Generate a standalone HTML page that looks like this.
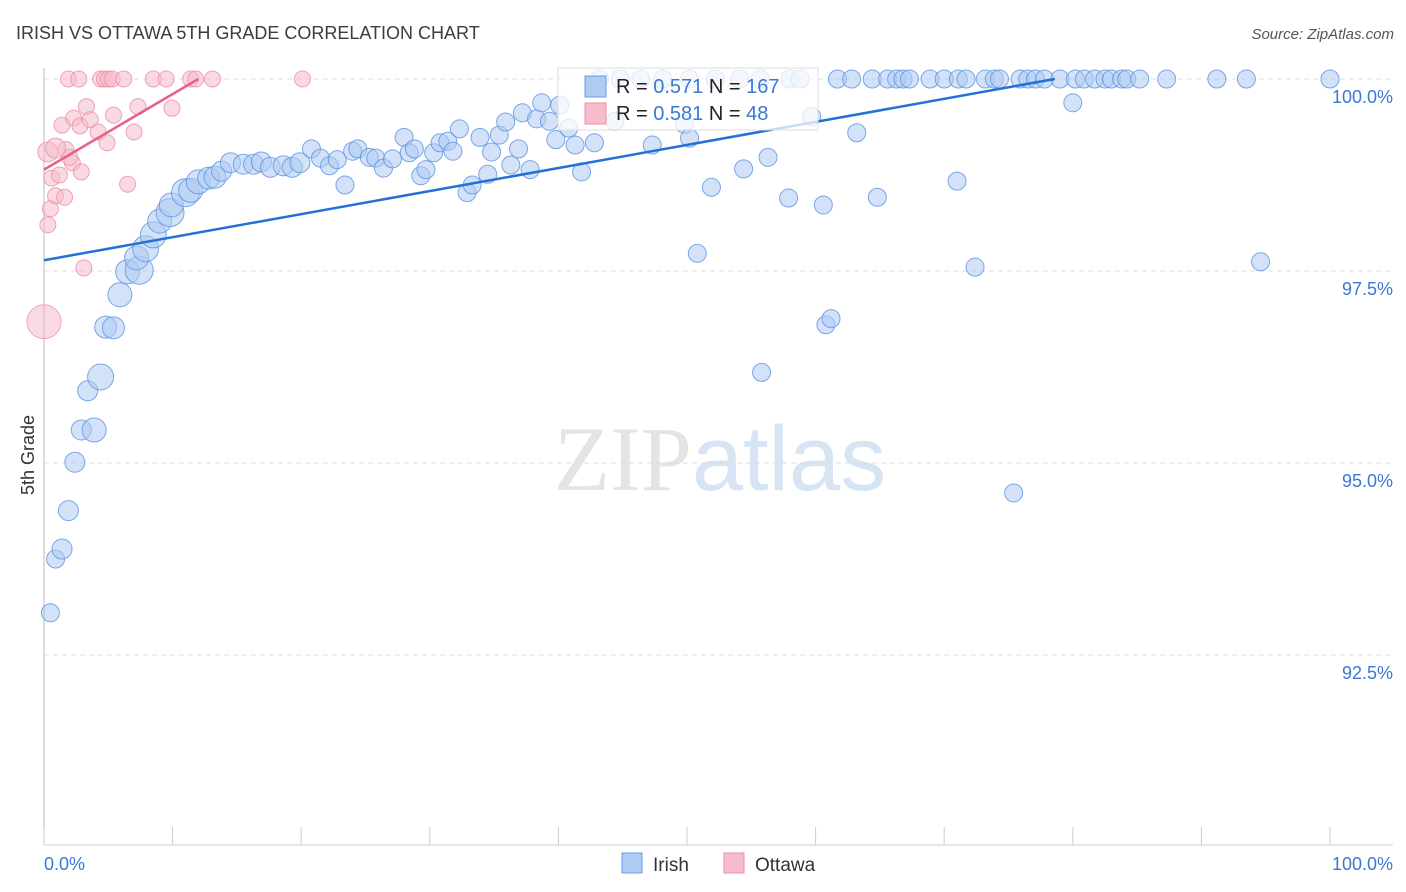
<!DOCTYPE html>
<html><head><meta charset="utf-8">
<style>
body{margin:0;background:#fff;font-family:"Liberation Sans",sans-serif;}
svg{display:block}
</style></head>
<body>
<svg id="chart" width="1406" height="892" viewBox="0 0 1406 892" xmlns="http://www.w3.org/2000/svg">
<text x="16" y="39" font-size="18" fill="#3c3c3c" font-family="Liberation Sans, sans-serif">IRISH VS OTTAWA 5TH GRADE CORRELATION CHART</text>
<text x="1394" y="39" font-size="15" fill="#555" text-anchor="end" font-style="italic" font-family="Liberation Sans, sans-serif">Source: ZipAtlas.com</text>
<text x="720" y="490" font-size="92" text-anchor="middle" fill="#e4e4e4" font-family="Liberation Serif, serif">ZIP<tspan fill="#d6e4f4" font-family="Liberation Sans, sans-serif">atlas</tspan></text>
<g id="grid"></g>
<g id="axes"></g>
<g id="pinkpts"></g>
<g id="bluepts"></g>
<g id="trends"></g>
<text transform="translate(34,455) rotate(-90)" font-size="18" fill="#333" text-anchor="middle" font-family="Liberation Sans, sans-serif">5th Grade</text>
<g>
<rect x="558" y="68" width="260" height="62" fill="#fff" fill-opacity="0.75" stroke="#ddd"/>
<rect x="585" y="76" width="21" height="21" fill="#aecbf3" stroke="#6b9ee6"/>
<rect x="585" y="103" width="21" height="21" fill="#f6bccb" stroke="#ec8fa8"/>
<text x="616" y="93" font-size="20" fill="#222">R = <tspan fill="#3a78d4">0.571</tspan>   N = <tspan fill="#3a78d4">167</tspan></text>
<text x="616" y="120" font-size="20" fill="#222">R = <tspan fill="#3a78d4">0.581</tspan>   N =  <tspan fill="#3a78d4"> 48</tspan></text>
</g>
<g>
<rect x="622" y="853" width="20" height="20" fill="#aecbf3" stroke="#6b9ee6"/>
<text x="653" y="871" font-size="19" fill="#333">Irish</text></g>
<g>
<rect x="724" y="853" width="20" height="20" fill="#f6bccb" stroke="#ec8fa8"/>
<text x="755" y="871" font-size="19" fill="#333">Ottawa</text></g>
</svg>
<script>
const yTicks=[100,97.5,95,92.5];
const yTickLabels=["100.0%","97.5%","95.0%","92.5%"];
const xTickValues=[0,10,20,30,40,50,60,70,80,90,100];
const xEndLabels=["0.0%","100.0%"];
const blueX=[0.5,0.9,1.4,1.9,2.4,2.9,3.9,3.4,4.4,4.8,5.4,5.9,6.5,7.4,7.2,7.9,8.5,9.0,9.8,9.9,11.0,11.4,12.0,12.8,13.3,13.8,14.5,15.5,16.3,16.9,17.6,18.6,19.3,19.9,20.8,21.5,22.2,22.8,23.4,24.0,24.4,25.3,25.8,26.4,27.1,28.0,28.4,28.8,29.3,29.7,30.3,30.8,31.4,31.8,32.3,32.9,33.3,33.9,34.5,34.8,35.4,35.9,36.3,36.9,37.2,37.8,38.3,38.7,39.3,39.8,40.1,40.8,41.3,41.8,42.8,44.4,47.3,49.8,50.2,50.8,51.9,54.4,56.3,57.9,60.6,60.8,61.2,59.7,55.8,63.2,64.8,71.0,72.4,75.4,80.0,94.6,
43.2,44.8,46.4,48.1,50.2,52.2,54.1,55.7,58.0,58.8,61.7,62.8,64.4,65.6,66.3,66.8,67.3,68.9,70.0,71.1,71.7,73.2,73.9,74.3,75.9,76.5,77.1,77.8,79.0,80.2,80.9,81.7,82.5,83.0,83.8,84.2,85.2,87.3,91.2,93.5,100];
const blueY=[93.05,93.75,93.88,94.38,95.01,95.43,95.43,95.94,96.12,96.77,96.76,97.19,97.49,97.51,97.67,97.79,97.97,98.15,98.26,98.36,98.52,98.55,98.66,98.71,98.72,98.8,98.91,98.89,98.89,98.92,98.85,98.87,98.85,98.91,99.09,98.97,98.87,98.95,98.62,99.06,99.09,98.98,98.97,98.84,98.96,99.24,99.04,99.09,98.74,98.82,99.04,99.17,99.19,99.06,99.35,98.52,98.62,99.24,98.76,99.05,99.27,99.44,98.88,99.09,99.56,98.82,99.48,99.69,99.45,99.21,99.66,99.36,99.14,98.79,99.17,99.45,99.14,99.41,99.23,97.73,98.59,98.83,98.98,98.45,98.36,96.8,96.88,99.51,96.18,99.3,98.46,98.67,97.55,94.61,99.69,97.62,
100,100,100,100,100,100,100,100,100,100,100,100,100,100,100,100,100,100,100,100,100,100,100,100,100,100,100,100,100,100,100,100,100,100,100,100,100,100,100,100,100];
const blueSize=[9,9,10,10,10,10,12,10,13,11,11,12,12,14,12,13,13,12,14,12,14,12,12,11,11,10,10,10,10,10,10,10,10,10];
const pinkX=[1.9,2.7,4.4,4.7,5.0,5.3,6.2,8.5,9.5,11.4,11.8,13.1,20.1,0,0.3,0.5,0.9,1.6,0.6,1.2,0.3,1.7,2.2,2.9,2.0,0.9,1.4,2.3,2.8,3.3,3.6,4.2,4.9,5.4,6.5,7.0,7.3,9.95,3.1];
const pinkY=[100,100,100,100,100,100,100,100,100,100,100,100,100,96.84,98.1,98.31,98.48,98.46,98.71,98.75,99.05,99.08,98.91,98.79,98.98,99.1,99.4,99.49,99.39,99.64,99.47,99.31,99.17,99.53,98.63,99.31,99.64,99.62,97.54];
const pinkSize=[8,8,8,8,8,8,8,8,8,8,8,8,8,17,8,8,8,8,8,8,10,8,8,8,8,10];
const blueTrend=[[0,97.64],[78.6,100]];
const pinkTrend=[[0,98.82],[12,100]];

const X0=44,X1=1330,YTOP=79,PXPER=76.8;
const sx=v=>X0+(X1-X0)*v/100;
const sy=v=>YTOP+(100-v)*PXPER;
const NS="http://www.w3.org/2000/svg";
function mk(tag,attrs,parent){const e=document.createElementNS(NS,tag);for(const k in attrs)e.setAttribute(k,attrs[k]);parent.appendChild(e);return e;}
const grid=document.getElementById('grid'),axes=document.getElementById('axes');
yTicks.forEach((t,i)=>{
 const l=mk('line',{x1:44,x2:1393,y1:sy(t),y2:sy(t),stroke:'#dcdcdc','stroke-dasharray':'5,4'},grid);
 
 
 const tx=mk('text',{x:1393,y:sy(t)+24,'font-size':18,fill:'#3a78d4','text-anchor':'end'},grid);
 tx.textContent=yTickLabels[i];
 
 
});
const xa=mk('line',{x1:44,x2:1393,y1:845,y2:845,stroke:'#ccc'},axes);


const ya=mk('line',{x1:44,x2:44,y1:68,y2:845,stroke:'#bbb'},axes);


xTickValues.forEach(v=>{
 const t=mk('line',{x1:sx(v),x2:sx(v),y1:827,y2:845,stroke:'#ccc'},axes);
 
 
});
const xl0=mk('text',{x:44,y:870,'font-size':18,fill:'#3a78d4'},axes);xl0.textContent=xEndLabels[0];


const xl1=mk('text',{x:1393,y:870,'font-size':18,fill:'#3a78d4','text-anchor':'end'},axes);xl1.textContent=xEndLabels[1];


const pg=document.getElementById('pinkpts');
pinkX.forEach((x,i)=>{
 const c=mk('circle',{cx:sx(x),cy:sy(pinkY[i]),r:pinkSize[i]||8,fill:'#f6bccb','fill-opacity':0.55,stroke:'#ec8fa8','stroke-opacity':0.8},pg);
 
 
});
const bg=document.getElementById('bluepts');
blueX.forEach((x,i)=>{
 const c=mk('circle',{cx:sx(x),cy:sy(blueY[i]),r:blueSize[i]||9,fill:'#aecbf3','fill-opacity':0.55,stroke:'#5b93e0','stroke-opacity':0.8},bg);
 
 
});
const tg=document.getElementById('trends');
const bt=mk('line',{x1:sx(blueTrend[0][0]),y1:sy(blueTrend[0][1]),x2:sx(blueTrend[1][0]),y2:sy(blueTrend[1][1]),stroke:'#2370d6','stroke-width':2.5},tg);


const pt=mk('line',{x1:sx(pinkTrend[0][0]),y1:sy(pinkTrend[0][1]),x2:sx(pinkTrend[1][0]),y2:sy(pinkTrend[1][1]),stroke:'#e8608a','stroke-width':2.5},tg);


</script>
</body></html>
